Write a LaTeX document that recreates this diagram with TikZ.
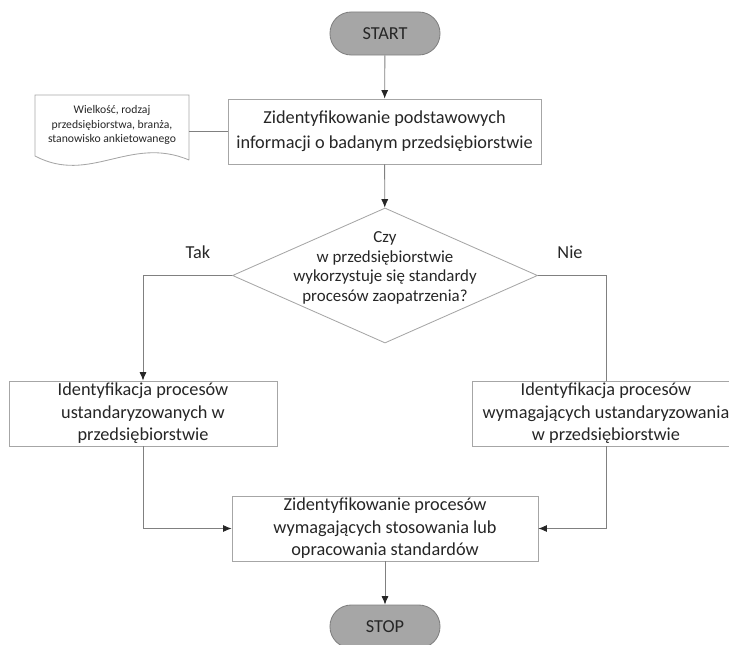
\documentclass[tikz,border=0pt]{standalone}
\usepackage{fontspec}
\setmainfont{Carlito}
\usetikzlibrary{shapes.geometric,arrows.meta}
\definecolor{linia}{HTML}{808080}
\definecolor{ramka}{HTML}{A6A6A6}
\definecolor{tlo}{HTML}{A6A6A6}
\definecolor{tekst}{HTML}{262626}

\begin{document}
\begin{tikzpicture}[x=0.025cm,y=-0.025cm,
  >={Latex[length=6pt,width=5pt,color=tekst]},
  every node/.style={text=tekst},
  terminal/.style={draw=linia,fill=tlo,line width=0.6pt,rounded corners=0.53cm,
    minimum width=2.75cm,minimum height=1.075cm,inner sep=0,font=\fontsize{13}{15}\selectfont},
  proces/.style={draw=ramka,fill=white,line width=0.6pt,align=center,inner sep=0,
    minimum height=1.625cm,font=\fontsize{13}{16}\selectfont},
  decyzja/.style={draw=ramka,line width=0.6pt,diamond,minimum width=7.625cm,
    minimum height=3.375cm,inner sep=0},
  polacz/.style={draw=linia,line width=0.6pt}]

\useasboundingbox (0,0) rectangle (729,644);
\clip (0,0) rectangle (729,644);

% start i dane wejsciowe
\node[terminal] (start) at (385,33.5) {START};

\node[proces,minimum width=7.825cm,font=\fontsize{13}{17.5}\selectfont] (podst) at (384.5,131.5)
{Zidentyfikowanie podstawowych\\informacji o badanym przedsiębiorstwie};

\node[font=\fontsize{8.3}{10.3}\selectfont,align=center,minimum width=3.85cm,inner sep=0]
(dane) at (112,125) {Wielkość, rodzaj\\przedsiębiorstwa, branża,\\stanowisko ankietowanego};
\draw[draw=ramka,line width=0.6pt] (189,160) -- (189,95) -- (35,95) -- (35,156)
  .. controls (90,185) and (130,135) .. (189,160);

% decyzja
\node[decyzja] (decyzja) at (385,275.5) {};
\node[align=center,font=\fontsize{12}{14}\selectfont] (pytanie) at (385,268)
{Czy\\w przedsiębiorstwie\\wykorzystuje się standardy\\procesów zaopatrzenia?};

\node[font=\fontsize{13}{15}\selectfont] (tak) at (198,252) {Tak};
\node[font=\fontsize{13}{15}\selectfont] (nie) at (570,252) {Nie};

% galezie
\node[proces,minimum width=6.7cm] (ustand) at (143,413.5)
{Identyfikacja procesów\\ustandaryzowanych w\\przedsiębiorstwie};
\node[proces,minimum width=6.7cm] (wymag) at (606,413.5)
{Identyfikacja procesów\\wymagających ustandaryzowania\\w przedsiębiorstwie};

\node[proces,minimum width=7.65cm] (koniec) at (385,528.5)
{Zidentyfikowanie procesów\\wymagających stosowania lub\\opracowania standardów};

\node[terminal] (stop) at (385,626.5) {STOP};

% polaczenia
\draw[polacz,->] (start) -- (podst);
\draw[polacz] (dane.east |- podst.west) -- (podst.west);
\draw[polacz,->] (podst) -- (decyzja);
\draw[polacz,->] (decyzja.west) -| (ustand.north);
\draw[polacz] (decyzja.east) -| (wymag.north);
\draw[polacz,->] (ustand.south) |- (koniec.west);
\draw[polacz,->] (wymag.south) |- (koniec.east);
\draw[polacz,->] (koniec) -- (stop);

\end{tikzpicture}
\end{document}
